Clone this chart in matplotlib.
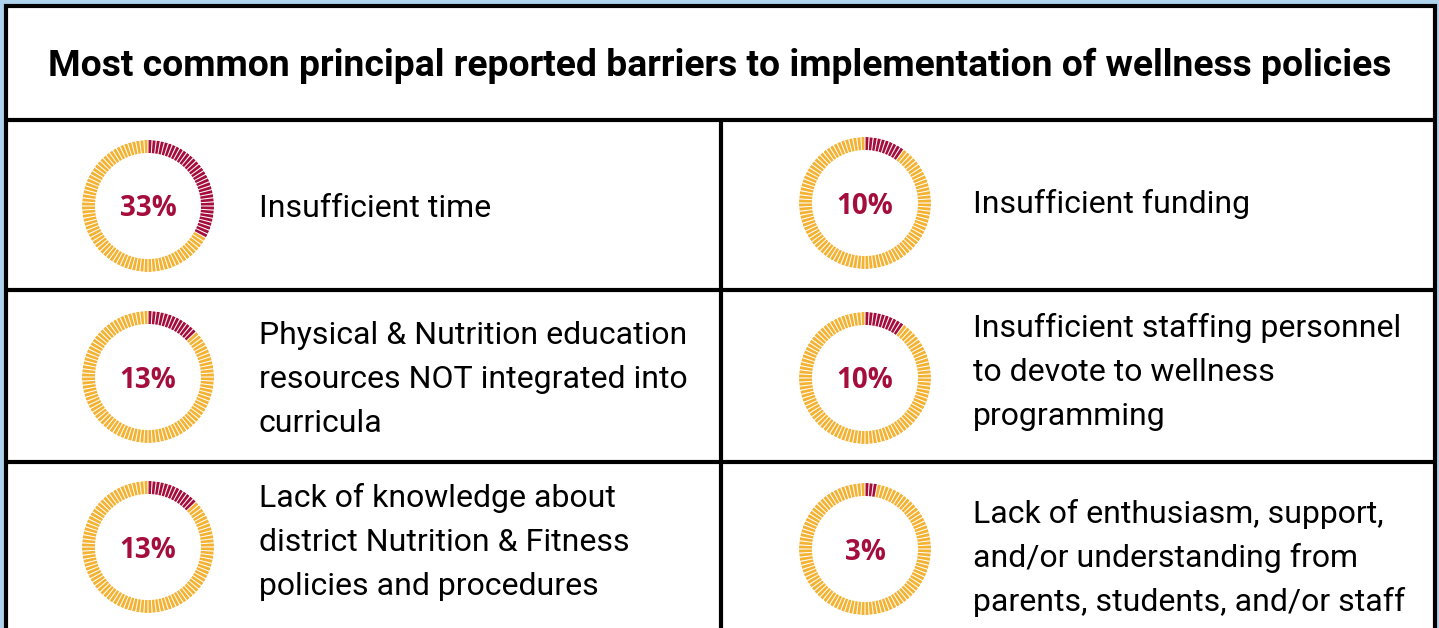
import numpy as np
from matplotlib import pyplot as plt
from matplotlib.patches import Rectangle

title = "Most common principal reported barriers to implementation of wellness policies"

barriers = [
    "Insufficient time",
    "Insufficient funding",
    "Physical & Nutrition education\nresources NOT integrated into\ncurricula",
    "Insufficient staffing personnel\nto devote to wellness\nprogramming",
    "Lack of knowledge about\ndistrict Nutrition & Fitness\npolicies and procedures",
    "Lack of enthusiasm, support,\nand/or understanding from\nparents, students, and/or staff",
]
percents = [33, 10, 13, 10, 13, 3]

GOLD = "#f4b233"
CRIMSON = "#a50e3c"
SKY = "#add4ec"

W, H = 1439, 628
fig = plt.figure(figsize=(W / 100, H / 100), dpi=100)
fig.patch.set_facecolor(SKY)

# page layer in pixel coordinates
ax = fig.add_axes([0, 0, 1, 1])
ax.set_xlim(0, W)
ax.set_ylim(H, 0)
ax.axis("off")

lw = 3.0
ax.add_patch(Rectangle((6, 6), 1429, 700, facecolor="white", edgecolor="black", lw=lw))
for y in [120, 290, 462]:
    ax.plot([6, 1435], [y, y], color="black", lw=lw, solid_capstyle="butt")
ax.plot([721, 721], [120, 700], color="black", lw=lw, solid_capstyle="butt")

ax.text(720, 66, title, ha="center", va="center", fontsize=26.8,
        fontweight="bold", family="Roboto")

# donut center (cx, cy), label left edge and first baseline per cell
cells = [
    (148, 206, 259, 217), (865, 203, 973, 213),
    (148, 377, 259, 344), (865, 378, 973, 337),
    (148, 547, 259, 507), (865, 549, 973, 523),
]
line_step = 44

r_out, ring = 66, 13
n_seg = 100
theta = (np.arange(n_seg) + 0.5) * 2 * np.pi / n_seg

for (cx, cy, tx, ty), pct, label in zip(cells, percents, barriers):
    pax = fig.add_axes([(cx - r_out) / W, (H - cy - r_out) / H, 2 * r_out / W, 2 * r_out / H],
                       projection="polar")
    pax.set_theta_zero_location("N")
    pax.set_theta_direction(-1)
    colors = [CRIMSON if i < pct else GOLD for i in range(n_seg)]
    pax.bar(theta, ring, width=2 * np.pi / n_seg * 0.72, bottom=r_out - ring,
            color=colors, edgecolor="none")
    pax.set_ylim(0, r_out)
    pax.axis("off")

    ax.text(cx, cy + 10.5, f"{pct}%", ha="center", va="baseline", fontsize=20,
            fontweight="bold", color=CRIMSON, family="Open Sans", zorder=5)

    for i, line in enumerate(label.split("\n")):
        ax.text(tx, ty + i * line_step, line, ha="left", va="baseline",
                fontsize=23, family="Roboto")

fig.savefig("out.png", dpi=100, facecolor=SKY)
